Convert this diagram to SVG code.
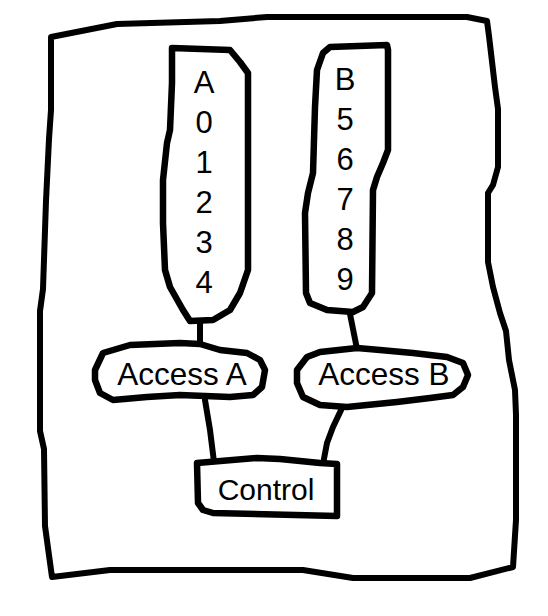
<svg xmlns="http://www.w3.org/2000/svg" width="548" height="616" viewBox="0 0 548 616">
<style>
.ln{fill:none;stroke:#000;stroke-width:6;stroke-linejoin:round;stroke-linecap:round}
.nd{fill:#fff;stroke:#000;stroke-width:6.5;stroke-linejoin:round}
.t{font-family:"Liberation Sans",Arial,sans-serif;font-size:31px;fill:#000;text-anchor:middle}
.ta{font-size:31.5px}
.tc{font-size:30px}
</style>
<rect width="548" height="616" fill="#fff"/>
<g id="frame">
<path class="ln" d="M51,37 L117,24 L220,21 L267,17 L467,17 L487,21 L489,36 L495,87 L498,109 L498,167 L493,185 L488,193 L488,262 L493,287 L500,313 L506,331 L509,360 L515,390 L516,415 L516,520 L513,567 L470,578 L353,578 L303,570 L110,570 L52,577 L48,548 L45,526 L44,449 L40,431 L40,311 L43,289 L46,201 L49,139 L51,110 Z"/>
</g>
<g id="connectors">
<path class="ln" d="M200,322 L200,346"/>
<path class="ln" d="M350,314 L357,349"/>
<path class="ln" d="M205,400 L210,430 L214,462"/>
<path class="ln" d="M343,406 L333,427 L327,443 L323,464"/>
</g>
<g id="nodeA">
<path class="nd" d="M172,48 L230,50 L240,62 L248,73 L248,270 L240,293 L230,310 L213,320 L190,321 L183,310 L170,287 L165,270 L163,223 L163,180 L167,143 L170,130 L172,83 Z"/>
<text class="t" x="204" y="93">A</text>
<text class="t" x="204" y="133">0</text>
<text class="t" x="204" y="173">1</text>
<text class="t" x="204" y="213">2</text>
<text class="t" x="204" y="253">3</text>
<text class="t" x="204" y="293">4</text>
</g>
<g id="nodeB">
<path class="nd" d="M330,47 L387,45 L388,50 L388,150 L383,163 L377,177 L373,190 L372,293 L363,307 L353,312 L327,310 L310,303 L306,293 L305,213 L308,193 L313,173 L315,107 L317,70 L323,53 Z"/>
<text class="t" x="345" y="90">B</text>
<text class="t" x="345" y="130">5</text>
<text class="t" x="345" y="170">6</text>
<text class="t" x="345" y="210">7</text>
<text class="t" x="345" y="250">8</text>
<text class="t" x="345" y="290">9</text>
</g>
<g id="accessA">
<path class="nd" d="M95,370 L103,353 L130,345 L180,343 L200,344 L220,350 L247,353 L260,360 L265,370 L262,387 L253,395 L230,397 L180,395 L147,397 L113,400 L100,393 L95,380 Z"/>
<text class="t ta" x="182" y="385">Access A</text>
</g>
<g id="accessB">
<path class="nd" d="M297,370 L307,357 L320,352 L357,348 L380,350 L413,353 L447,357 L463,363 L468,375 L463,387 L453,395 L430,398 L397,402 L347,407 L320,405 L303,397 L297,383 Z"/>
<text class="t ta" x="384" y="385">Access B</text>
</g>
<g id="control">
<path class="nd" d="M197,463 L257,458 L280,459 L320,463 L337,464 L337,516 L213,513 L203,510 L198,503 Z"/>
<text class="t tc" x="266" y="500">Control</text>
</g>
</svg>
